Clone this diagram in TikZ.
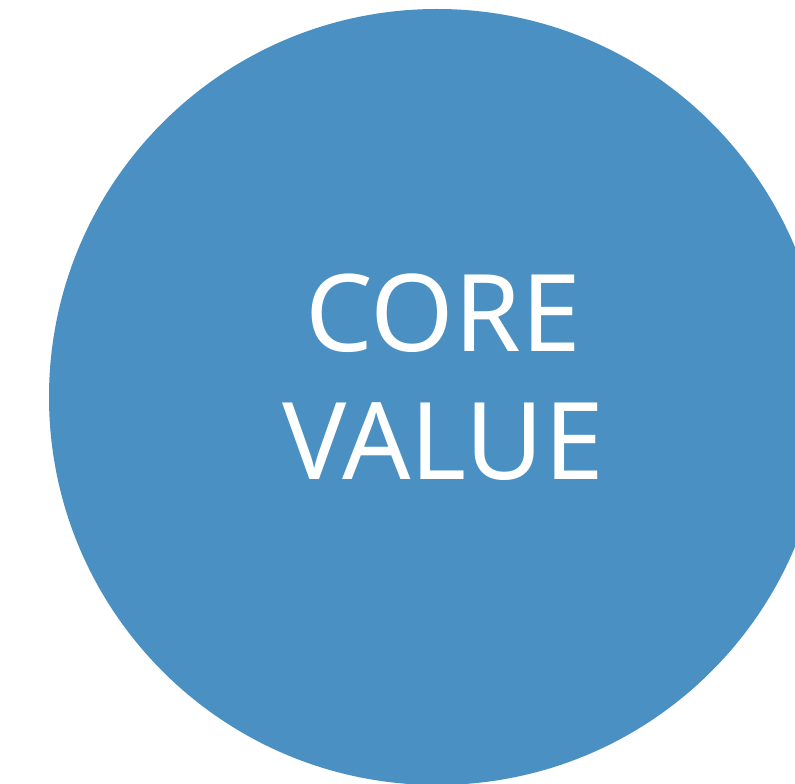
\documentclass[tikz,border=0pt]{standalone}
\usepackage{fontspec}
\setmainfont{Noto Sans}
\definecolor{bleu}{HTML}{4A90C2}

\begin{document}
\begin{tikzpicture}
\tikzset{rond/.style={circle, fill=bleu, minimum size=15.52cm, inner sep=0pt}}
\tikzset{texte/.style={text=white, align=center, font=\fontsize{61}{73}\selectfont}}
\useasboundingbox (0, 0) rectangle (15.9, -15.68);
\clip (0, 0) rectangle (15.9, -15.68);
\node[rond] (C) at (8.74, -7.94) {};
\node[texte] (T) at (8.86, -7.55) {CORE\\VALUE};
\end{tikzpicture}
\end{document}
